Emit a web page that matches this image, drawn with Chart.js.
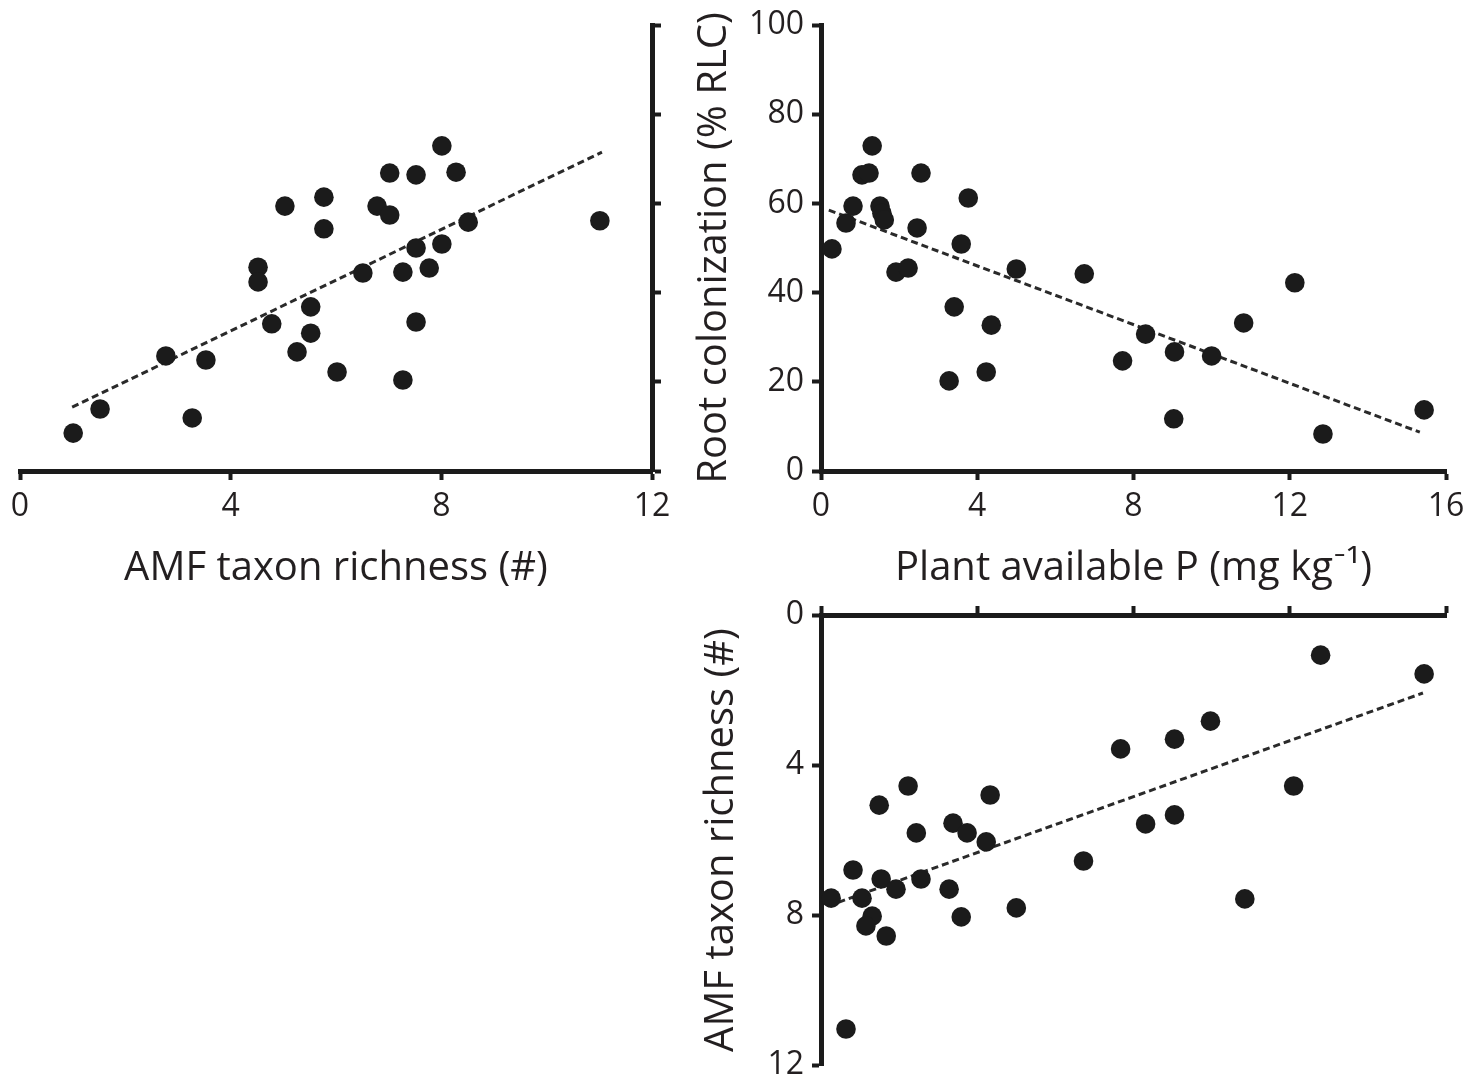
<!DOCTYPE html>
<html>
<head>
<meta charset="utf-8">
<script src="https://cdn.jsdelivr.net/npm/chart.js@4.4.1/dist/chart.umd.min.js"></script>
<style>
  body { margin: 0; background: #fff; }
  #wrap { position: relative; width: 1472px; height: 1078px; overflow: hidden; }
  canvas { position: absolute; }
</style>
</head>
<body>
<div id="wrap">
  <canvas id="richChart" width="700" height="600" style="left:0;top:0"></canvas>
  <canvas id="phosChart" width="792" height="600" style="left:680px;top:0"></canvas>
  <canvas id="phosRichChart" width="792" height="488" style="left:680px;top:590px"></canvas>
</div>
<script>
// top left: AMF taxon richness vs root colonization
const richA = [1.01, 1.52, 2.77, 3.27, 3.53, 4.52, 4.52, 4.78, 5.03, 5.26, 5.52, 5.52, 5.77, 5.77, 6.02, 6.51, 6.78, 7.02, 7.02, 7.27, 7.27, 7.52, 7.52, 7.52, 7.77, 8.01, 8.01, 8.28, 8.51, 11.01];
const rlcA = [8.5, 13.9, 25.8, 11.9, 24.9, 45.7, 42.4, 33.0, 59.4, 26.7, 30.9, 36.8, 61.4, 54.3, 22.2, 44.4, 59.4, 66.8, 57.4, 44.6, 20.4, 66.4, 33.4, 50.0, 45.5, 72.9, 50.9, 67.0, 55.8, 56.1];
const trendAx = [0.99, 11.05];
const trendAy = [14.3, 71.5];

// top right: plant available P vs root colonization
const phosB = [0.28, 0.64, 0.82, 1.05, 1.23, 1.31, 1.51, 1.56, 1.62, 1.92, 2.23, 2.46, 2.56, 3.28, 3.41, 3.59, 3.77, 4.23, 4.36, 5.0, 6.74, 7.72, 8.31, 9.05, 9.03, 10.0, 10.82, 12.13, 12.85, 15.44];
const rlcB = [49.8, 55.6, 59.4, 66.4, 66.8, 72.9, 59.4, 57.8, 56.3, 44.6, 45.5, 54.5, 66.8, 20.2, 36.8, 50.9, 61.2, 22.2, 32.7, 45.3, 44.2, 24.7, 30.7, 26.7, 11.7, 25.8, 33.2, 42.2, 8.3, 13.7];
const trendBx = [0.2, 15.33];
const trendBy = [58.5, 8.7];

// bottom: plant available P vs AMF taxon richness (reversed axis)
const phosC = [0.26, 0.64, 0.82, 1.05, 1.31, 1.15, 1.49, 1.54, 1.67, 1.92, 2.23, 2.44, 2.56, 3.28, 3.38, 3.74, 3.59, 4.23, 4.33, 5.0, 6.72, 7.67, 8.31, 9.05, 9.05, 9.97, 10.85, 12.1, 12.79, 15.44];
const richC = [7.55, 11.04, 6.8, 7.55, 8.03, 8.29, 5.07, 7.04, 8.56, 7.31, 4.56, 5.81, 7.04, 7.31, 5.55, 5.81, 8.05, 6.05, 4.8, 7.81, 6.56, 3.57, 5.57, 3.31, 5.33, 2.83, 7.57, 4.56, 1.07, 1.57];
const trendCx = [0.18, 15.41];
const trendCy = [7.76, 2.08];

const ink = '#1b1b1b';
const textCol = '#231f20';
const fontFam = '"Open Sans", Lato, sans-serif';

function pts(xs, ys) {
  return xs.map((x, i) => ({ x: x, y: ys[i] }));
}

function fixSize(size) {
  return function (scale) {
    if (scale.isHorizontal()) scale.height = size;
    else scale.width = size;
    scale.paddingLeft = 0;
    scale.paddingRight = 0;
    scale.paddingTop = 0;
    scale.paddingBottom = 0;
  };
}

function axis(opts) {
  return {
    type: 'linear',
    position: opts.position,
    reverse: !!opts.reverse,
    min: opts.min,
    max: opts.max,
    afterFit: fixSize(opts.size),
    border: { display: true, width: 5, color: ink },
    grid: { display: true, drawOnChartArea: false, drawTicks: true, tickLength: 9, tickWidth: 4, tickColor: ink },
    ticks: {
      display: opts.labels !== false,
      stepSize: opts.step,
      padding: 8,
      color: textCol,
      font: { family: fontFam, size: 32 }
    },
    title: {
      display: !!opts.title,
      text: opts.title || '',
      color: textCol,
      padding: opts.titlePad || 0,
      font: { family: fontFam, size: 40 }
    }
  };
}

function datasets(xs, ys, tx, ty) {
  return [
    {
      data: pts(xs, ys),
      backgroundColor: ink,
      borderWidth: 0,
      pointRadius: 9.8,
      clip: false
    },
    {
      type: 'line',
      data: pts(tx, ty),
      borderColor: '#2a2a2a',
      borderWidth: 3,
      borderDash: [7, 4],
      pointRadius: 0,
      fill: false,
      clip: false
    }
  ];
}

function makeChart(id, ds, padding, xAxis, yAxis) {
  new Chart(document.getElementById(id), {
    type: 'scatter',
    data: { datasets: ds },
    options: {
      responsive: false,
      animation: false,
      events: [],
      layout: { padding: padding, autoPadding: false },
      plugins: { legend: { display: false }, tooltip: { enabled: false } },
      scales: { x: xAxis, y: yAxis }
    }
  });
}

makeChart('richChart',
  datasets(richA, rlcA, trendAx, trendAy),
  { left: 20, top: 25, right: 0, bottom: 0 },
  axis({ position: 'bottom', min: 0, max: 12, step: 4, size: 129, title: 'AMF taxon richness (#)', titlePad: { bottom: 7 } }),
  axis({ position: 'right', min: 0, max: 100, step: 20, size: 48, labels: false })
);

makeChart('phosChart',
  datasets(phosB, rlcB, trendBx, trendBy),
  { left: 0, top: 25, right: 26, bottom: 0 },
  axis({ position: 'bottom', min: 0, max: 16, step: 4, size: 129, title: 'Plant available P (mg kg\u207B\u00B9)', titlePad: { bottom: 7 } }),
  axis({ position: 'left', min: 0, max: 100, step: 20, size: 141, title: 'Root colonization (% RLC)', titlePad: { top: 11 } })
);

makeChart('phosRichChart',
  datasets(phosC, richC, trendCx, trendCy),
  { left: 0, top: 0, right: 26, bottom: 13 },
  axis({ position: 'top', min: 0, max: 16, step: 4, size: 25, labels: false }),
  axis({ position: 'left', min: 0, max: 12, step: 4, size: 141, reverse: true, title: 'AMF taxon richness (#)', titlePad: { top: 18 } })
);
</script>
</body>
</html>
